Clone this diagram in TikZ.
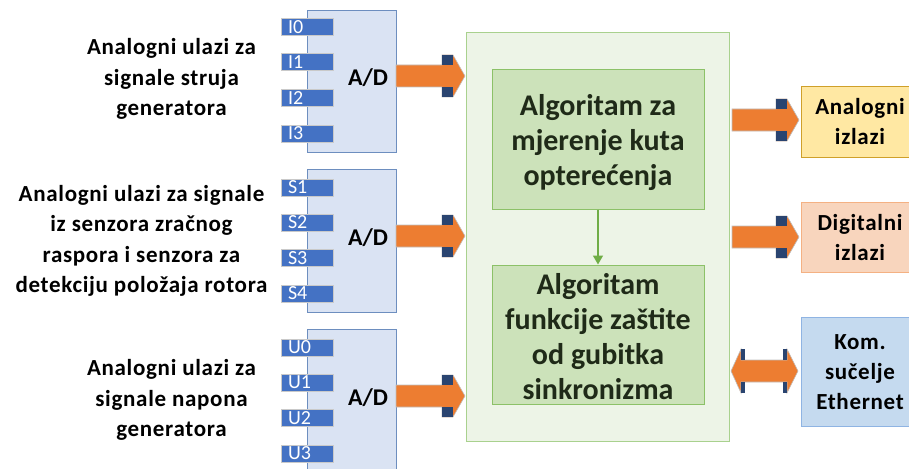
\documentclass[tikz,border=0pt]{standalone}
\usepackage{fontspec}
\setmainfont{Carlito}
\usetikzlibrary{arrows.meta}
\definecolor{adfill}{HTML}{DAE3F3}
\definecolor{adline}{HTML}{6D8EBF}
\definecolor{tabfill}{HTML}{4472C4}
\definecolor{tabline}{HTML}{C9C9C9}
\definecolor{orng}{HTML}{ED7D31}
\definecolor{dblue}{HTML}{2A4470}
\definecolor{gofill}{HTML}{EDF4E7}
\definecolor{goline}{HTML}{A9D18E}
\definecolor{gifill}{HTML}{CCE2BA}
\definecolor{giline}{HTML}{8CC168}
\definecolor{garrow}{HTML}{70AD47}
\definecolor{yfill}{HTML}{FFE8A3}
\definecolor{yline}{HTML}{CFA02A}
\definecolor{pfill}{HTML}{F8D5BD}
\definecolor{pline}{HTML}{F4B183}
\definecolor{bfill}{HTML}{C5DAEF}
\definecolor{bline}{HTML}{8FB4E3}
\definecolor{gtext}{HTML}{1F2A18}
\newcommand\blockarr[3]{%
  \fill[orng, draw=black!25, line width=0.6pt] (#1,{#3-11}) -- ({#2-23},{#3-11}) -- ({#2-23},{#3-21}) -- ({#2-12},{#3-21}) -- (#2,#3) -- ({#2-12},{#3+21}) -- ({#2-23},{#3+21}) -- ({#2-23},{#3+11}) -- (#1,{#3+11}) -- cycle;
  \fill[dblue] ({#2-23},{#3-21}) rectangle ({#2-12},{#3-11});
  \fill[dblue] ({#2-23},{#3+11}) rectangle ({#2-12},{#3+21});
}
\tikzset{
  adbox/.style={draw=adline, fill=adfill, line width=0.8pt, minimum width=89pt, inner sep=0pt},
  tabbox/.style={draw=tabline, fill=tabfill, line width=1pt, minimum width=52pt, minimum height=17pt, text width=38pt, inner xsep=7pt, inner ysep=0pt, align=left, text=white, font=\fontsize{20}{20}\selectfont},
  adtext/.style={font=\fontsize{24}{26}\selectfont\bfseries},
  lefttext/.style={align=center, font=\fontsize{23}{30.5}\selectfont\bfseries\addfontfeatures{LetterSpace=3}},
  algbox/.style={draw=giline, fill=gifill, line width=1pt, minimum width=212pt, minimum height=139pt},
  algtext/.style={align=center, text=gtext, font=\fontsize{30}{35}\selectfont\bfseries},
  outbox/.style={line width=1pt, minimum width=116pt},
  outtext/.style={align=center, font=\fontsize{23}{30}\selectfont\bfseries\addfontfeatures{LetterSpace=3}},
}
\begin{document}
\begin{tikzpicture}[x=1pt,y=-1pt]
\useasboundingbox (0,0) rectangle (909,468);
% left texts
\node[lefttext] (t1) at (171.5,79) {Analogni ulazi za\\signale struja\\generatora};
\node[lefttext] (t2) at (141.5,241) {Analogni ulazi za signale\\iz senzora zračnog\\raspora i senzora za\\detekciju položaja rotora};
\node[lefttext] (t3) at (171.5,400) {Analogni ulazi za\\signale napona\\generatora};
% A/D boxes
\node[adbox, minimum height=142pt] (ad1) at (351.5,81) {};
\node[adbox, minimum height=143pt] (ad2) at (351.5,240.5) {};
\node[adbox, minimum height=142pt] (ad3) at (351.5,400) {};
\node[adtext] (adt1) at (368,78) {A/D};
\node[adtext] (adt2) at (368,238) {A/D};
\node[adtext] (adt3) at (368,398) {A/D};
% tabs
\node[tabbox] (i0) at (307,27.5) {I0};
\node[tabbox] (i1) at (307,62.5) {I1};
\node[tabbox] (i2) at (307,98) {I2};
\node[tabbox] (i3) at (307,133.5) {I3};
\node[tabbox] (s1) at (307,187.5) {S1};
\node[tabbox] (s2) at (307,222.5) {S2};
\node[tabbox] (s3) at (307,258) {S3};
\node[tabbox] (s4) at (307,293.5) {S4};
\node[tabbox] (u0) at (307,347.5) {U0};
\node[tabbox] (u1) at (307,382.5) {U1};
\node[tabbox] (u2) at (307,418) {U2};
\node[tabbox] (u3) at (307,453.5) {U3};
% green outer
\node[draw=goline, fill=gofill, line width=1pt, minimum width=263pt, minimum height=408pt] (core) at (597.5,237) {};
\node[algbox] (alg1) at (598,139.5) {};
\node[algbox] (alg2) at (598,334.5) {};
\node[algtext] (alg1t) at (598,142.5) {Algoritam za\\mjerenje kuta\\opterećenja};
\node[algtext] (alg2t) at (598,336.5) {Algoritam\\funkcije zaštite\\od gubitka\\sinkronizma};
\draw[garrow, line width=1.5pt, -{Triangle[width=10pt,length=9pt]}] (alg1.south) -- (alg2.north);
% input block arrows
\blockarr{396}{465}{76}
\blockarr{396}{465}{236}
\blockarr{396}{465}{396}
% output boxes
\node[outbox, draw=yline, fill=yfill, minimum height=70pt] (aout) at (859,122) {};
\node[outbox, draw=pline, fill=pfill, minimum height=70pt] (dout) at (859,237) {};
\node[outbox, draw=bline, fill=bfill, minimum height=109pt] (eth) at (859,371.5) {};
\node[outtext] (aoutt) at (860,122) {Analogni\\izlazi};
\node[outtext] (doutt) at (860,238) {Digitalni\\izlazi};
\node[outtext] (etht) at (860,372.5) {Kom.\\sučelje\\Ethernet};
% output arrows
\blockarr{732}{799}{120}
\blockarr{732}{799}{237}
% double arrow
\fill[orng, draw=black!25, line width=0.6pt] (731,371) -- (741,349) -- (741,360) -- (787,360) -- (787,349) -- (798,371) -- (787,393) -- (787,382) -- (741,382) -- (741,393) -- cycle;
\fill[dblue] (741,349) rectangle (745,360);
\fill[dblue] (741,382) rectangle (745,393);
\fill[dblue] (783,349) rectangle (787,360);
\fill[dblue] (783,382) rectangle (787,393);
\end{tikzpicture}
\end{document}
